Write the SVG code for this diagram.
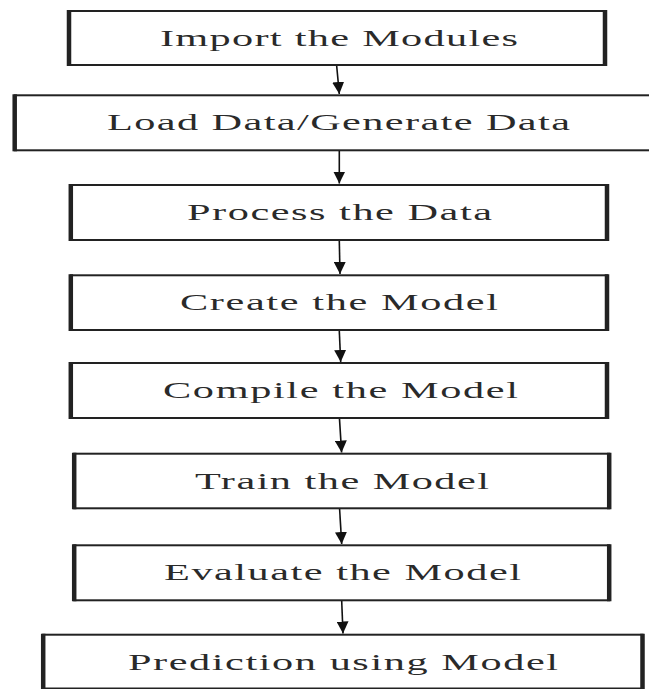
<svg xmlns="http://www.w3.org/2000/svg" width="649" height="689" viewBox="0 0 649 689">
  <style>
    .frame { fill: #ffffff; stroke: #222222; stroke-width: 2; }
    .side { fill: none; stroke: #222222; stroke-width: 4.5; }
    .label { font-family: "Liberation Serif", "Times New Roman", serif; font-size: 23.5px; fill: #2a2a2a; text-anchor: middle; }
    .flow { stroke: #111111; stroke-width: 1.6; fill: none; }
  </style>
  <defs>
    <marker id="arrowhead" viewBox="0 0 12 12" refX="12" refY="6" markerWidth="12" markerHeight="12" markerUnits="userSpaceOnUse" orient="auto">
      <path d="M0,0 L12,6 L0,12 z" fill="#111111"/>
    </marker>
  </defs>
  <rect width="649" height="689" fill="#ffffff"/>

  <!-- process steps; labels are widened with scale(1.8,1) and spaced to fit -->
  <g id="import-modules">
    <rect class="frame" x="69" y="11" width="536" height="54"/>
    <path class="side" d="M69,10 V66 M605,10 V66"/>
    <text class="label" transform="translate(339,46) scale(1.8,1)" textLength="198.9" lengthAdjust="spacing">Import the Modules</text>
  </g>
  <g id="load-data">
    <rect class="frame" x="14.7" y="95.3" width="640" height="55"/>
    <path class="side" d="M14.7,94.3 V151.3"/>
    <text class="label" transform="translate(338.5,130.3) scale(1.8,1)" textLength="257.2" lengthAdjust="spacing">Load Data/Generate Data</text>
  </g>
  <g id="process-data">
    <rect class="frame" x="70.8" y="185" width="536.2" height="55"/>
    <path class="side" d="M70.8,184 V241 M607,184 V241"/>
    <text class="label" transform="translate(339.5,220) scale(1.8,1)" textLength="169.4" lengthAdjust="spacing">Process the Data</text>
  </g>
  <g id="create-model">
    <rect class="frame" x="70.8" y="275.3" width="536.2" height="54.7"/>
    <path class="side" d="M70.8,274.3 V331 M607,274.3 V331"/>
    <text class="label" transform="translate(339,310.3) scale(1.8,1)" textLength="176.7" lengthAdjust="spacing">Create the Model</text>
  </g>
  <g id="compile-model">
    <rect class="frame" x="70.8" y="363" width="536.2" height="55"/>
    <path class="side" d="M70.8,362 V419 M607,362 V419"/>
    <text class="label" transform="translate(340.5,398) scale(1.8,1)" textLength="197.2" lengthAdjust="spacing">Compile the Model</text>
  </g>
  <g id="train-model">
    <rect class="frame" x="74.2" y="453.7" width="535" height="54.6"/>
    <path class="side" d="M74.2,452.7 V509.3 M609.2,452.7 V509.3"/>
    <text class="label" transform="translate(342,488.7) scale(1.8,1)" textLength="163.3" lengthAdjust="spacing">Train the Model</text>
  </g>
  <g id="evaluate-model">
    <rect class="frame" x="74.2" y="545.3" width="535" height="55"/>
    <path class="side" d="M74.2,544.3 V601.3 M609.2,544.3 V601.3"/>
    <text class="label" transform="translate(342.5,580.3) scale(1.8,1)" textLength="198.3" lengthAdjust="spacing">Evaluate the Model</text>
  </g>
  <g id="prediction">
    <rect class="frame" x="43.2" y="634.7" width="599.3" height="53.8"/>
    <path class="side" d="M43.2,633.7 V689 M642.5,633.7 V689"/>
    <text class="label" transform="translate(343,669.5) scale(1.8,1)" textLength="238.9" lengthAdjust="spacing">Prediction using Model</text>
  </g>

  <!-- connectors between steps -->
  <g id="connectors">
    <line class="flow" x1="336.7" y1="66" x2="339.3" y2="94" marker-end="url(#arrowhead)"/>
    <line class="flow" x1="339.3" y1="151" x2="339.3" y2="183.5" marker-end="url(#arrowhead)"/>
    <line class="flow" x1="339.3" y1="241" x2="340" y2="274" marker-end="url(#arrowhead)"/>
    <line class="flow" x1="339.3" y1="331" x2="340.7" y2="362" marker-end="url(#arrowhead)"/>
    <line class="flow" x1="339.5" y1="419" x2="341.6" y2="452.5" marker-end="url(#arrowhead)"/>
    <line class="flow" x1="339.6" y1="509" x2="341.7" y2="544" marker-end="url(#arrowhead)"/>
    <line class="flow" x1="341.7" y1="601" x2="343" y2="633.5" marker-end="url(#arrowhead)"/>
  </g>
</svg>
